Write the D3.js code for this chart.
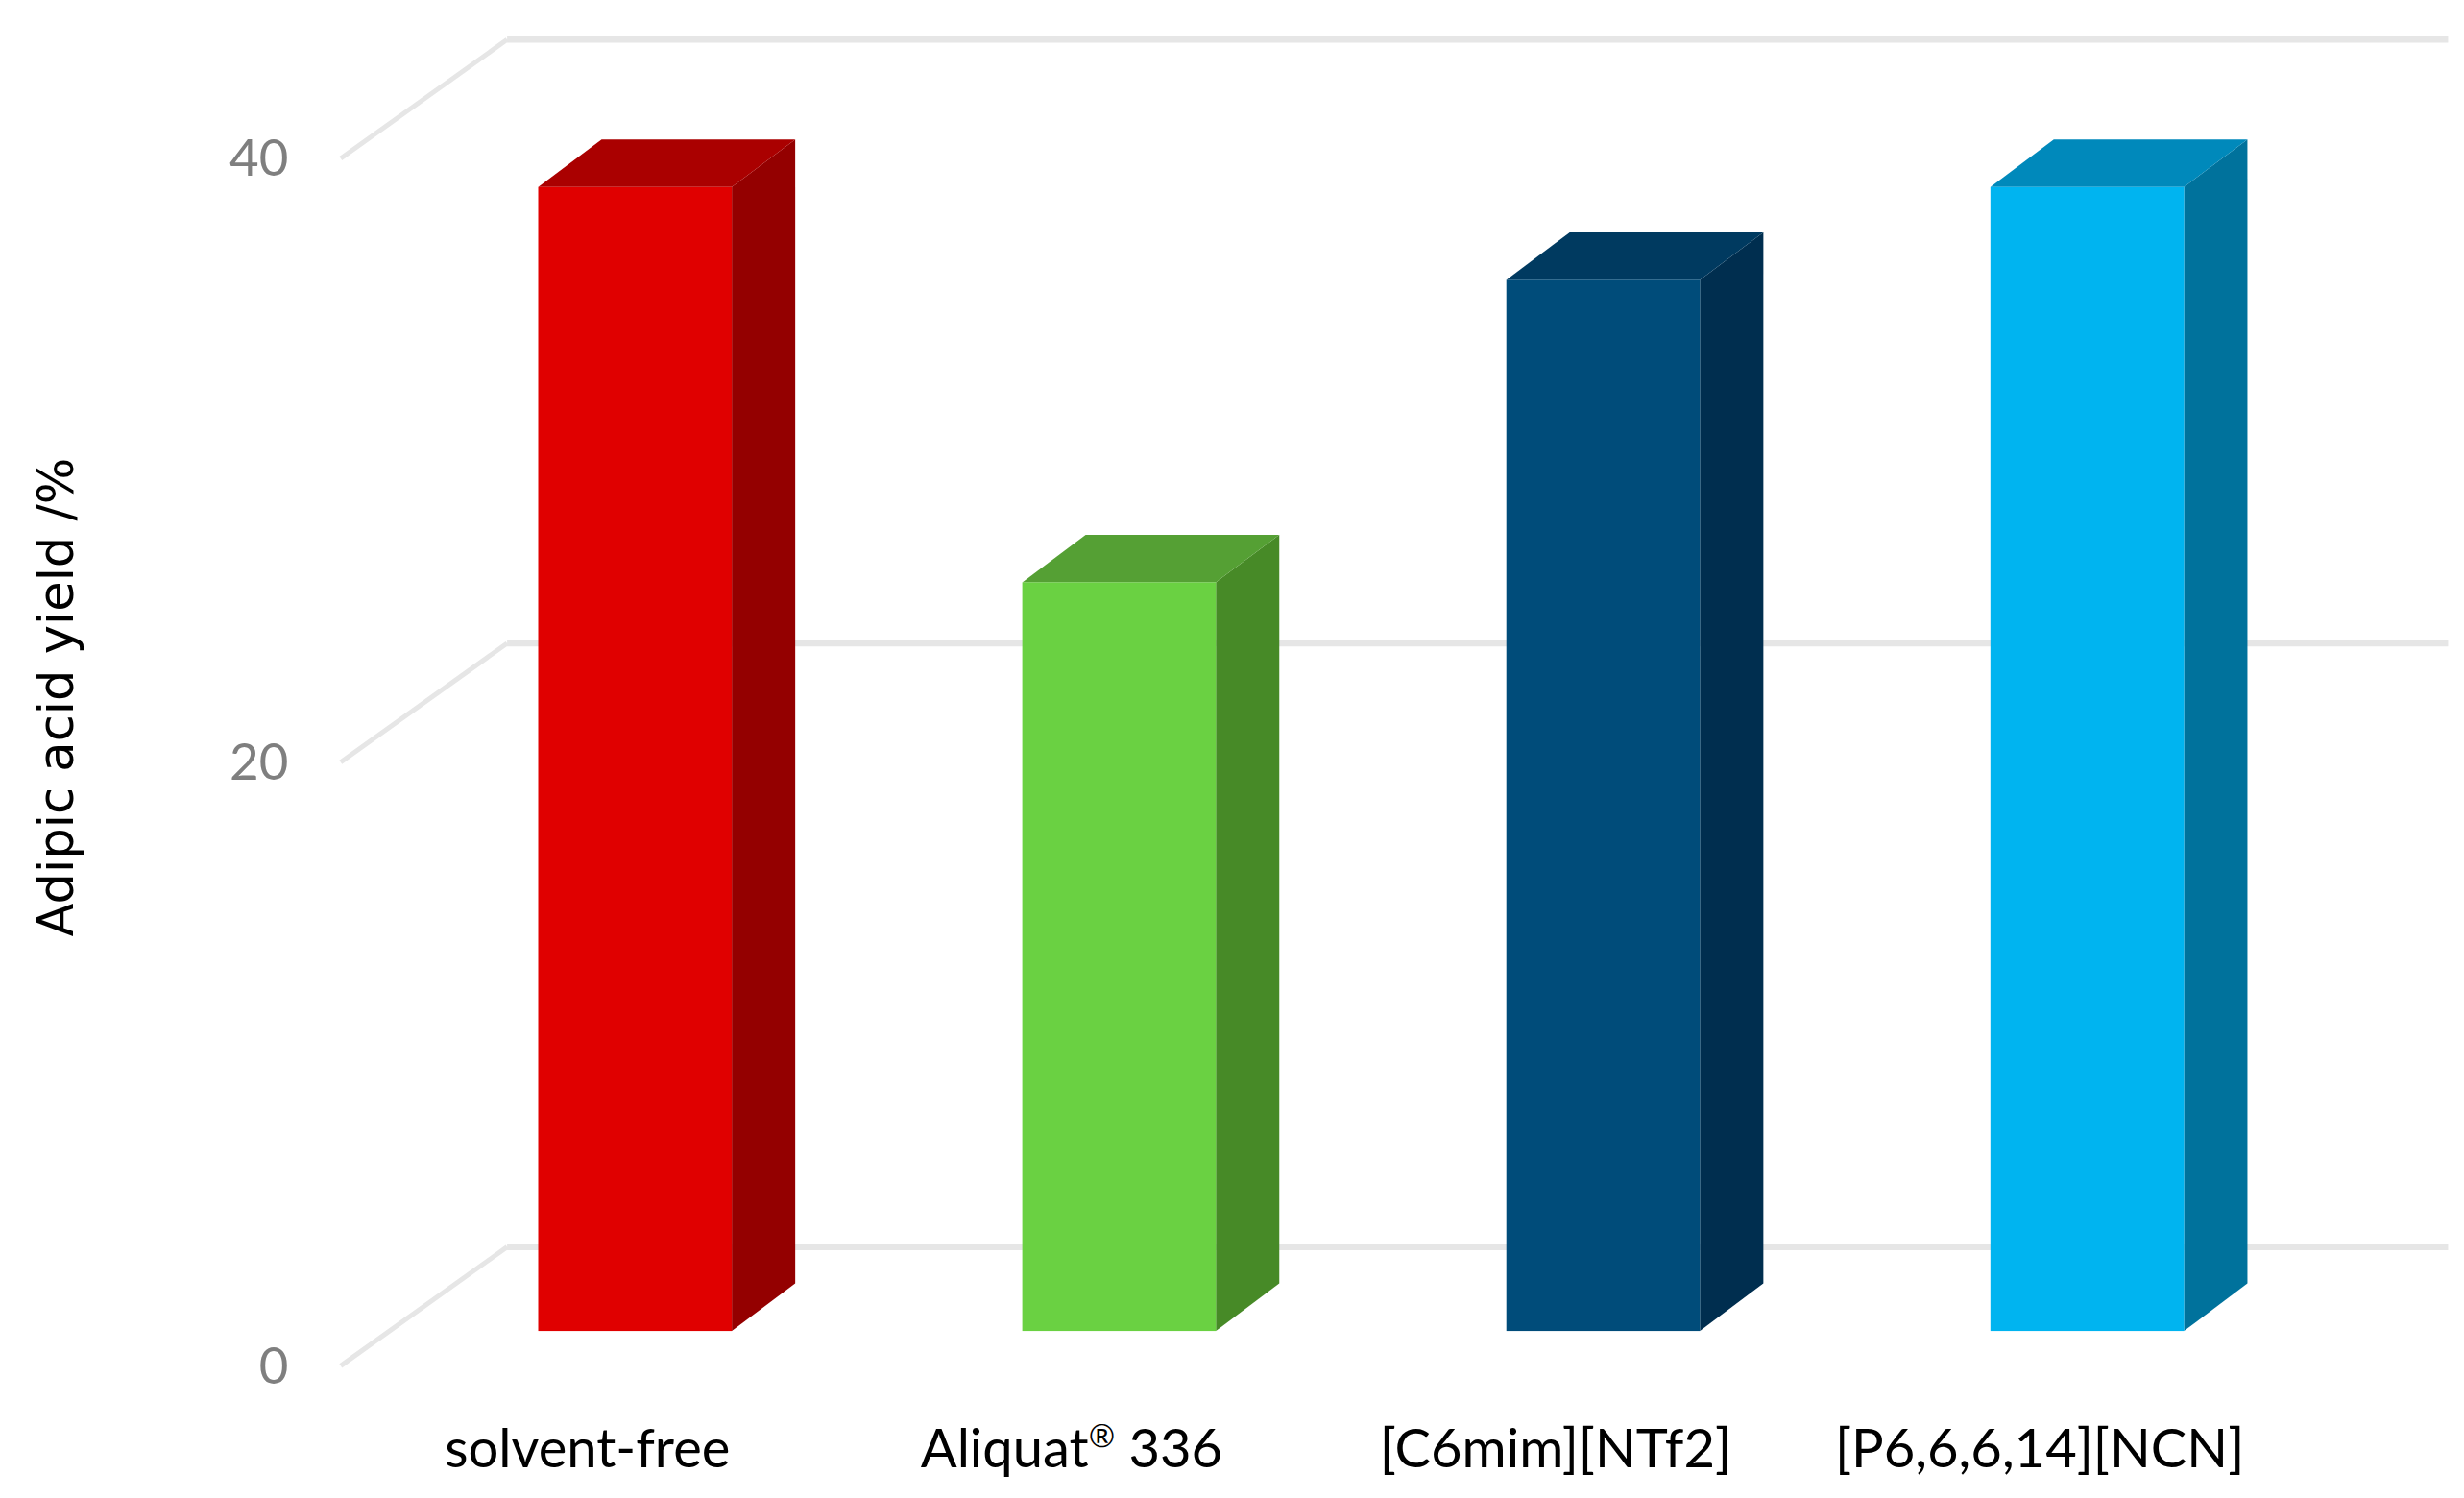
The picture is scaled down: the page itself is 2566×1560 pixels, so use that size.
<!DOCTYPE html>
<html><head><meta charset="utf-8">
<script src="https://d3js.org/d3.v7.min.js"></script>
<style>body{margin:0;background:#fff}</style>
</head><body>
<script>
var categories = ["solvent-free", "Aliquat® 336", "[C6mim][NTf2]", "[P6,6,6,14][NCN]"];
var values = [38.2, 25.0, 35.1, 38.2];
var ticks = [0, 20, 40];
var fronts = ["#e00000", "#6ad142", "#004c7a", "#00b4f0"];
var sides = ["#940000", "#478a27", "#002e4f", "#00729c"];
var tops = ["#aa0000", "#55a034", "#003a60", "#0089bb"];

var W = 1555, H = 945.4;
var svg = d3.select("body").append("svg")
  .attr("width", 2566).attr("height", 1560)
  .attr("viewBox", "0 0 " + W + " " + H);

// back wall scale and front (bar face) scale
var wallY = d3.scaleLinear().domain([0, 40]).range([787, 25]);
var barY = d3.scaleLinear().domain([0, 40]).range([840, 84]);
var x = d3.scaleBand().domain(categories).range([248, 1470]).paddingInner(0.6).paddingOuter(0.3);
var dx = 40, dy = -30, wdx = 105, wdy = -75;

var grid = svg.append("g");
ticks.forEach(function(t) {
  var y = wallY(t);
  grid.append("line").attr("x1", 320).attr("x2", 1545).attr("y1", y).attr("y2", y)
    .attr("stroke", "#e6e6e6").attr("stroke-width", 4);
  grid.append("line").attr("x1", 215).attr("y1", y - wdy).attr("x2", 320).attr("y2", y)
    .attr("stroke", "#e6e6e6").attr("stroke-width", 3);
  svg.append("text").attr("x", 182).attr("y", y - wdy + 11).attr("text-anchor", "end")
    .attr("font-family", "Lato, sans-serif").attr("font-size", 32).attr("fill", "#7f7f7f")
    .text(t);
});

var bars = svg.selectAll("g.bar").data(values).enter().append("g").attr("class", "bar");
bars.each(function(v, i) {
  var g = d3.select(this);
  var x0 = x(categories[i]), w = x.bandwidth(), y0 = barY(0), y1 = barY(v);
  g.append("path").attr("fill", sides[i])
    .attr("d", "M" + (x0 + w) + "," + y1 + "L" + (x0 + w + dx) + "," + (y1 + dy) +
      "L" + (x0 + w + dx) + "," + (y0 + dy) + "L" + (x0 + w) + "," + y0 + "Z");
  g.append("path").attr("fill", tops[i])
    .attr("d", "M" + x0 + "," + y1 + "L" + (x0 + dx) + "," + (y1 + dy) +
      "L" + (x0 + w + dx) + "," + (y1 + dy) + "L" + (x0 + w) + "," + y1 + "Z");
  g.append("rect").attr("x", x0).attr("y", y1).attr("width", w).attr("height", y0 - y1)
    .attr("fill", fronts[i]);
});

svg.selectAll("text.cat").data(categories).enter().append("text").attr("class", "cat")
  .attr("x", function(d) { return x(d) + x.bandwidth() / 2 - 30; })
  .attr("y", 926).attr("text-anchor", "middle")
  .attr("font-family", "Lato, sans-serif").attr("font-size", 34).attr("fill", "#000")
  .each(function(d) {
    var t = d3.select(this);
    if (d.indexOf("®") >= 0) {
      var p = d.split("®");
      t.append("tspan").text(p[0]);
      t.append("tspan").attr("font-size", 20).attr("dy", -13).text("®");
      t.append("tspan").attr("dy", 13).text(p[1]);
    } else t.text(d);
  });

svg.append("text").attr("transform", "translate(46,440) rotate(-90)")
  .attr("text-anchor", "middle").attr("font-family", "DejaVu Sans, sans-serif")
  .attr("font-size", 31).attr("fill", "#000").text("Adipic acid yield /%");
</script>
</body></html>
